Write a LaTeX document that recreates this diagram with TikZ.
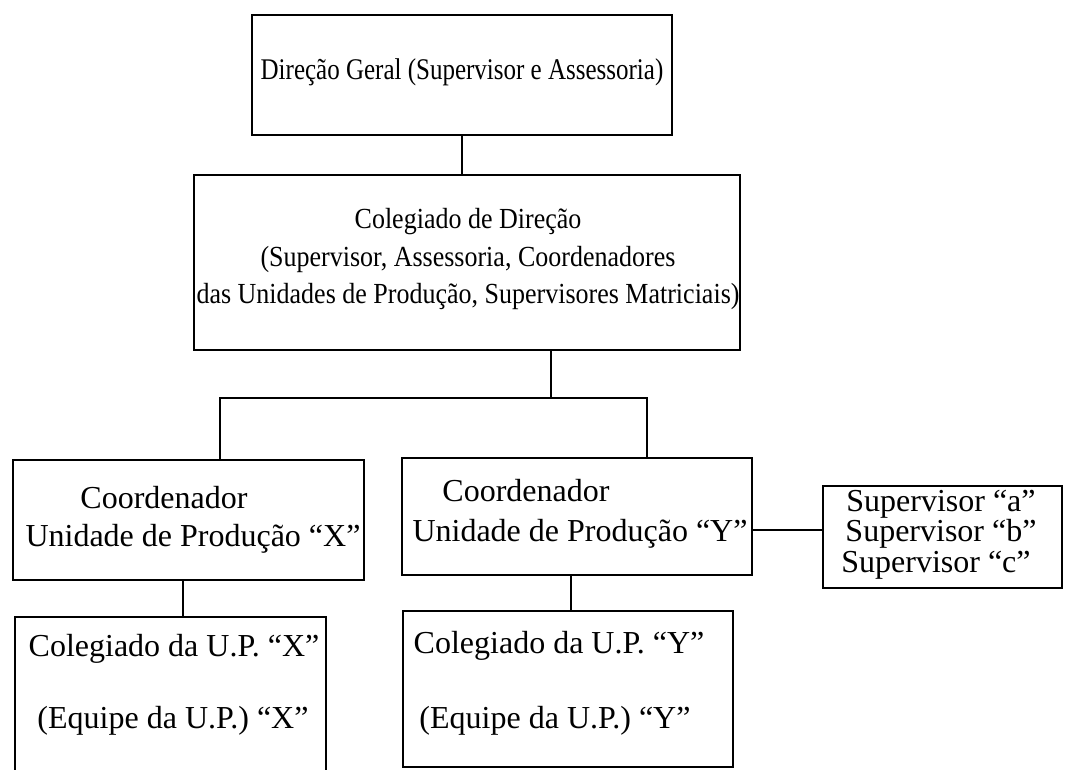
\documentclass[tikz,border=0pt]{standalone}
\usepackage{fontspec}
\setmainfont{Liberation Serif}
\newcommand{\tallA}[1]{\scalebox{1}[1.2]{#1}}
\newcommand{\tallB}[1]{\scalebox{1}[1.12]{#1}}
\begin{document}
\begin{tikzpicture}[x=1pt,y=-1pt,
  box/.style={draw=black, line width=1.5pt, inner sep=0pt},
  link/.style={draw=black, line width=1.5pt},
  big/.style={inner sep=0pt, anchor=base, font=\fontsize{32}{36}\selectfont},
  mid/.style={inner sep=0pt, anchor=base, font=\fontsize{26}{30}\selectfont},
  hd/.style={inner sep=0pt, anchor=base, font=\fontsize{25}{30}\selectfont}]
\useasboundingbox (0,0) rectangle (1070,769);
% boxes
\node[box, minimum width=420pt, minimum height=120pt] (top) at (462,75) {};
\node[box, minimum width=546pt, minimum height=175pt] (coleg) at (467,262.5) {};
\node[box, minimum width=351pt, minimum height=120pt] (cx) at (188.5,520) {};
\node[box, minimum width=350pt, minimum height=117pt] (cy) at (577,516.5) {};
\node[box, minimum width=239pt, minimum height=102pt] (sup) at (942.5,537) {};
\node[box, minimum width=311pt, minimum height=154pt] (ux) at (170.5,694) {};
\node[box, minimum width=330pt, minimum height=156pt] (uy) at (568,689) {};
% texts
\node[hd] (ttop) at (462,79) {\tallA{Direção Geral (Supervisor e Assessoria)}};
\node[mid] (tc1) at (468,228) {\tallB{Colegiado de Direção}};
\node[mid] (tc2) at (468,266) {\tallB{(Supervisor, Assessoria, Coordenadores}};
\node[mid] (tc3) at (468,303) {\tallB{das Unidades de Produção, Supervisores Matriciais)}};
\node[big] (tx1) at (164,508) {Coordenador};
\node[big] (tx2) at (193,546) {Unidade de Produção “X”};
\node[big] (ty1) at (526,501) {Coordenador};
\node[big] (ty2) at (580,541) {Unidade de Produção “Y”};
\node[big] (sa) at (941,511) {Supervisor “a”};
\node[big] (sb) at (941,541) {Supervisor “b”};
\node[big] (sc) at (936,572) {Supervisor “c”};
\node[big] (ux1) at (174,656) {Colegiado da U.P. “X”};
\node[big] (ux2) at (173,728) {(Equipe da U.P.) “X”};
\node[big] (uy1) at (559,653) {Colegiado da U.P. “Y”};
\node[big] (uy2) at (555,728) {(Equipe da U.P.) “Y”};
% connectors
\coordinate (j) at (551,398);
\coordinate (jx) at (220,398);
\coordinate (jy) at (647,398);
\draw[link] (top.south) -- (top.south |- coleg.north);
\draw[link] (coleg.south -| j) -- (j);
\draw[link] (jx |- cx.north) -- (jx) -- (jy) -- (jy |- cy.north);
\coordinate (ax) at (183,580);
\draw[link] (ax |- cx.south) -- (ax |- ux.north);
\coordinate (ay) at (571,575);
\draw[link] (ay |- cy.south) -- (ay |- uy.north);
\coordinate (sy) at (0,530);
\draw[link] (cy.east |- sy) -- (sup.west |- sy);
\end{tikzpicture}
\end{document}
